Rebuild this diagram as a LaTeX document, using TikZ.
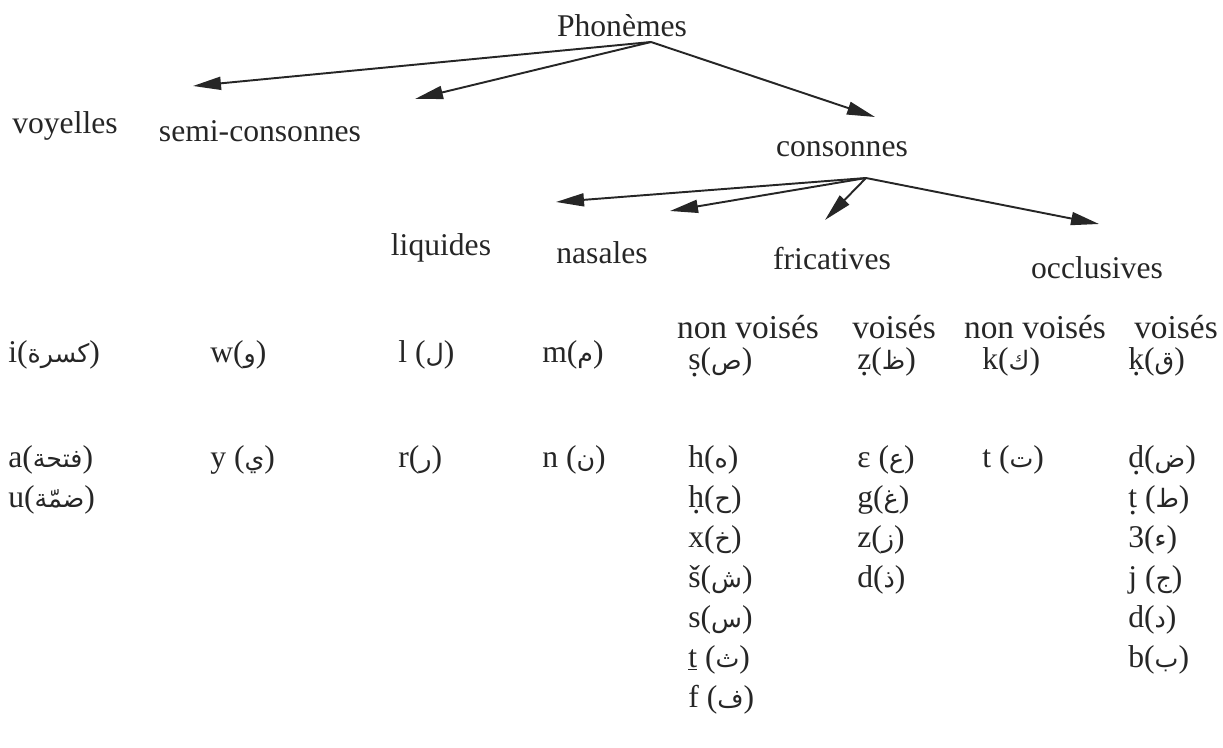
\documentclass[tikz,border=0pt]{standalone}
\usepackage{fontspec}
\setmainfont{Liberation Serif}
\newfontfamily\arabicfont[Script=Arabic,Scale=0.8]{DejaVu Sans}
\TeXXeTstate=1
\usetikzlibrary{arrows.meta}
\definecolor{ink}{gray}{0.15}
\newcommand{\artxt}[1]{{\arabicfont\beginR#1\endR}}
\newcommand{\udot}[1]{{\oalign{#1\crcr\hidewidth\vbox to.2ex{\hbox{.}\vss}\hidewidth}}}
\tikzset{
  cat/.style={font=\fontsize{18}{21}\selectfont, inner sep=0pt, text=ink},
  entry/.style={cat, anchor=base west},
  head/.style={cat, anchor=base, font=\fontsize{19}{22}\selectfont},
  darrow/.style={-{Triangle[length=5.6mm, width=2.6mm]}, line width=1.1pt, color=ink}
}
\begin{document}
\begin{tikzpicture}[x=0.02cm, y=-0.02cm]
  \useasboundingbox (0,0) rectangle (1223,747);

  % tree of categories
  \node[cat] (phon) at (622,26) {Phonèmes};
  \node[cat] (voy) at (65,126) {voyelles};
  \node[cat] (semi) at (260,131) {semi-consonnes};
  \node[cat] (cons) at (842,149) {consonnes};
  \node[cat] (liq) at (441,248) {liquides};
  \node[cat] (nas) at (602,253) {nasales};
  \node[cat] (fric) at (832,259) {fricatives};
  \node[cat] (occ) at (1097,268) {occlusives};

  \coordinate (phon-root) at (651,42);
  \coordinate (voy-tip) at (193,86);
  \coordinate (semi-tip) at (415,99);
  \coordinate (cons-tip) at (875,117);
  \coordinate (cons-root) at (866,178);
  \coordinate (liq-tip) at (556,202);
  \coordinate (nas-tip) at (670,211);
  \coordinate (fric-tip) at (825,220);
  \coordinate (occ-tip) at (1099,224);

  \draw[darrow] (phon-root) -- (voy-tip);
  \draw[darrow] (phon-root) -- (semi-tip);
  \draw[darrow] (phon-root) -- (cons-tip);
  \draw[darrow] (cons-root) -- (liq-tip);
  \draw[darrow] (cons-root) -- (nas-tip);
  \draw[darrow] (cons-root) -- (fric-tip);
  \draw[darrow] (cons-root) -- (occ-tip);

  % voicing headers
  \node[head] (fric-nv) at (748,338) {non voisés};
  \node[head] (fric-v) at (894,338) {voisés};
  \node[head] (occ-nv) at (1035,338) {non voisés};
  \node[head] (occ-v) at (1176,338) {voisés};

  % phonemes
  \node[entry] (voy-1) at (8,362) {i(\artxt{كسرة})};
  \node[entry] (voy-2) at (8,467) {a(\artxt{فتحة})};
  \node[entry] (voy-3) at (8,507) {u(\artxt{ضمّة})};
  \node[entry] (semi-1) at (210,362) {w(\artxt{و})};
  \node[entry] (semi-2) at (210,467) {y (\artxt{ي})};
  \node[entry] (liq-1) at (398,362) {l (\artxt{ل})};
  \node[entry] (liq-2) at (398,467) {r(\artxt{ر})};
  \node[entry] (nas-1) at (542,362) {m(\artxt{م})};
  \node[entry] (nas-2) at (542,467) {n (\artxt{ن})};

  \node[entry] (fnv-0) at (688,369) {\udot{s}(\artxt{ص})};
  \node[entry] (fv-0) at (857,369) {\udot{z}(\artxt{ظ})};
  \node[entry] (onv-0) at (982,369) {k(\artxt{ك})};
  \node[entry] (ov-0) at (1128,369) {\udot{k}(\artxt{ق})};

  \foreach \t [count=\i] in {h(\artxt{ه}), \udot{h}(\artxt{ح}), x(\artxt{خ}),
      š(\artxt{ش}), s(\artxt{س}), \underline{t} (\artxt{ث}), f (\artxt{ف})}
    \node[entry] (fnv-\i) at (688,427+40*\i) {\t};
  \foreach \t [count=\i] in {ε (\artxt{ع}), g(\artxt{غ}), z(\artxt{ز}), d(\artxt{ذ})}
    \node[entry] (fv-\i) at (857,427+40*\i) {\t};
  \node[entry] (onv-1) at (982,467) {t (\artxt{ت})};
  \foreach \t [count=\i] in {\udot{d}(\artxt{ض}), \udot{t} (\artxt{ط}), 3(\artxt{ء}),
      j (\artxt{ج}), d(\artxt{د}), b(\artxt{ب})}
    \node[entry] (ov-\i) at (1128,427+40*\i) {\t};
\end{tikzpicture}
\end{document}
